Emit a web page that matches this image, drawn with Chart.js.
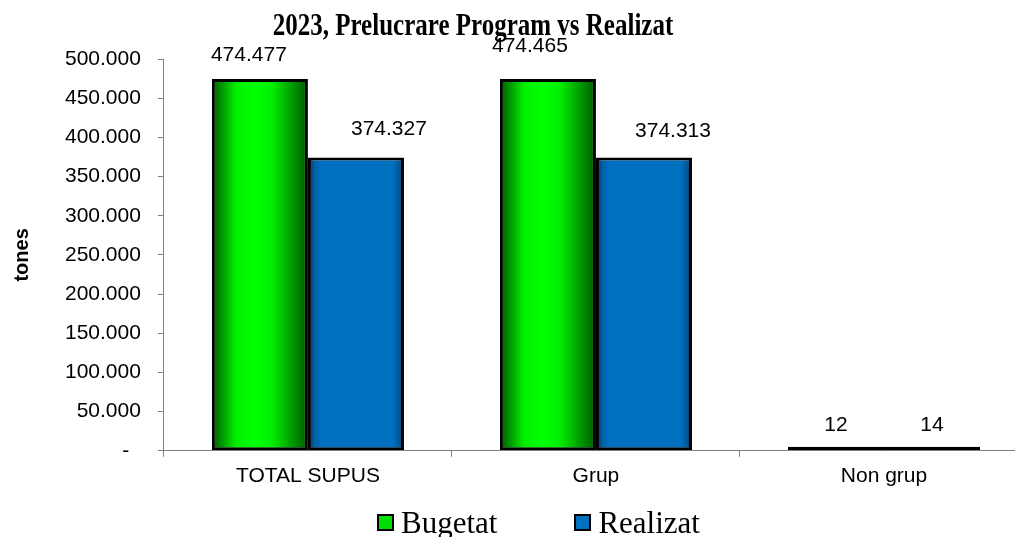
<!DOCTYPE html>
<html>
<head>
<meta charset="utf-8">
<script src="https://cdn.jsdelivr.net/npm/chart.js@4"></script>
<style>
  body { margin: 0; background: #fff; }
  #wrap { position: relative; width: 1015px; height: 537px; overflow: hidden; }
  #chart { position: absolute; left: 0; top: 0; }
  #titlu {
    position: absolute; left: 0; top: 8px; width: 946px; text-align: center;
    font: bold 25px/25px "Liberation Serif", "Times New Roman", serif; color: #000;
    transform: scaleY(1.28); transform-origin: top; white-space: nowrap;
  }
  #legenda {
    position: absolute; left: 377px; top: 507px; display: flex;
    font: 31px/31px "Liberation Serif", "Times New Roman", serif; color: #000;
  }
  .item { display: flex; align-items: center; margin-right: 77px; }
  .box { width: 13px; height: 13px; border: 2px solid #000; margin-right: 7px; }
</style>
</head>
<body>
<div id="wrap">
  <canvas id="chart" width="1028" height="537"></canvas>
  <div id="titlu">2023, Prelucrare Program vs Realizat</div>
  <div id="legenda"></div>
</div>
<script>
const CATEGORII = ["TOTAL SUPUS", "Grup", "Non grup"];
const BUGETAT = [474477, 474465, 12];
const REALIZAT = [374327, 374313, 14];
const Y_TICKS = [0, 50000, 100000, 150000, 200000, 250000, 300000, 350000, 400000, 450000, 500000];

const FONT_SANS = '"Liberation Sans", Arial, sans-serif';
const CAT_PCT = 0.667;

// Excel had the labels dragged around a bit, [dx, dy] from the bar top
const LABEL_NUDGE = [
  [[-11, -24], [-18, -33], [0, -22]],
  [[33, -28], [29, -26], [0, -22]],
];

function fmt(v) {
  if (v === 0) return "-  ";
  return String(Math.round(v)).replace(/\B(?=(\d{3})+(?!\d))/g, ".");
}

function gradient_bara(ctx, stops, flat) {
  const chart = ctx.chart;
  const xs = chart.scales.x;
  if (ctx.type !== "data" || !xs || !chart.chartArea) return flat;
  const center = xs.getPixelForValue(ctx.dataIndex);
  const catW = xs.width / CATEGORII.length;
  const barW = catW * CAT_PCT / 2;
  const left = center - barW + ctx.datasetIndex * barW;
  const g = chart.ctx.createLinearGradient(left, 0, left + barW, 0);
  stops.forEach(([p, c]) => g.addColorStop(p, c));
  return g;
}

const VERDE = [[0, "#005a00"], [0.08, "#008800"], [0.25, "#00f000"], [0.45, "#00ff00"], [0.62, "#00f000"], [0.8, "#00a800"], [0.93, "#007400"], [1, "#005a00"]];
const ALBASTRU = [[0, "#0a3458"], [0.07, "#0060a8"], [0.14, "#0070c0"], [0.88, "#0070c0"], [0.95, "#005898"], [1, "#0a3458"]];

const valoriPlugin = {
  id: "valori",
  afterDatasetsDraw(chart) {
    const c = chart.ctx;
    c.save();
    c.font = "21px " + FONT_SANS;
    c.fillStyle = "#000";
    c.textAlign = "center";
    c.textBaseline = "middle";
    chart.data.datasets.forEach((ds, di) => {
      chart.getDatasetMeta(di).data.forEach((el, i) => {
        const [dx, dy] = LABEL_NUDGE[di][i];
        c.fillText(fmt(ds.data[i]), el.x + dx, el.y + dy);
      });
    });
    c.restore();
  }
};

const legendaPlugin = {
  id: "legendaHtml",
  afterUpdate(chart) {
    const box = document.getElementById("legenda");
    box.innerHTML = "";
    chart.data.datasets.forEach((ds) => {
      const it = document.createElement("div");
      it.className = "item";
      const sq = document.createElement("span");
      sq.className = "box";
      sq.style.background = ds.legendColor;
      const tx = document.createElement("span");
      tx.textContent = ds.label;
      it.appendChild(sq);
      it.appendChild(tx);
      box.appendChild(it);
    });
  }
};

new Chart(document.getElementById("chart"), {
  type: "bar",
  data: {
    labels: CATEGORII,
    datasets: [
      {
        label: "Bugetat",
        data: BUGETAT,
        legendColor: "#00e000",
        backgroundColor: (ctx) => gradient_bara(ctx, VERDE, "#00e000"),
        borderColor: "#000",
        borderWidth: 3,
        borderSkipped: false,
        minBarLength: 4,
        categoryPercentage: CAT_PCT,
        barPercentage: 1,
      },
      {
        label: "Realizat",
        data: REALIZAT,
        legendColor: "#0070c0",
        backgroundColor: (ctx) => gradient_bara(ctx, ALBASTRU, "#0070c0"),
        borderColor: "#000",
        borderWidth: 3,
        borderSkipped: false,
        minBarLength: 4,
        categoryPercentage: CAT_PCT,
        barPercentage: 1,
      },
    ],
  },
  options: {
    responsive: false,
    animation: false,
    layout: { padding: { top: 59, left: 10, right: 0, bottom: 41 } },
    plugins: {
      legend: { display: false },
      title: { display: false },
      tooltip: { enabled: false },
    },
    scales: {
      x: {
        grid: { offset: true, drawOnChartArea: false, tickLength: 6, color: "#808080" },
        border: { color: "#808080", width: 1 },
        ticks: { color: "#000", font: { family: FONT_SANS, size: 21 }, padding: 7, maxRotation: 0 },
      },
      y: {
        min: 0,
        max: 500000,
        afterBuildTicks: (axis) => { axis.ticks = Y_TICKS.map((v) => ({ value: v })); },
        grid: { drawOnChartArea: false, tickLength: 6, color: "#808080" },
        border: { color: "#808080", width: 1 },
        ticks: {
          color: "#000",
          font: { family: FONT_SANS, size: 21 },
          padding: 17,
          callback: (v) => fmt(v),
        },
        title: {
          display: true,
          text: "tones",
          color: "#000",
          font: { family: FONT_SANS, size: 20, weight: "bold" },
          padding: { top: 0, bottom: 14 },
        },
      },
    },
  },
  plugins: [valoriPlugin, legendaPlugin],
});
</script>
</body>
</html>
